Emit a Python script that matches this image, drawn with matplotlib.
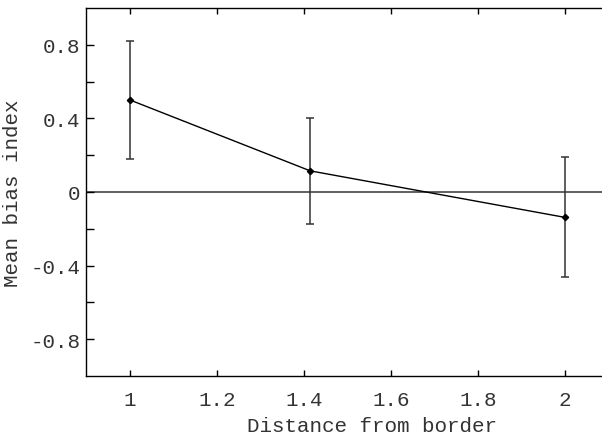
import numpy as np
import matplotlib
matplotlib.use("Agg")
import matplotlib.pyplot as plt
from matplotlib.ticker import FixedLocator

# mean bias index vs distance from border
dist = [1.0, np.sqrt(2), 2.0]
bias = [0.50, 0.115, -0.138]
err = [0.32, 0.288, 0.326]

xticks = [1, 1.2, 1.4, 1.6, 1.8, 2]
xlabels = ["1", "1.2", "1.4", "1.6", "1.8", "2"]
yticks = [-0.8, -0.4, 0, 0.4, 0.8]
ylabels = ["-0.8", "-0.4", "0", "0.4", "0.8"]

plt.rcParams['font.family'] = ['Liberation Mono', 'DejaVu Sans Mono']

fig = plt.figure(figsize=(6.02, 4.35), dpi=100)
ax = fig.add_axes([86/602, 1 - 377/435, 1 - 86/602, (377 - 9)/435])

ax.axhline(0, color='#444444', lw=1.2, zorder=1)
ax.errorbar(dist, bias, yerr=err, fmt='none', ecolor='#333333', elinewidth=1.1,
            capsize=3, capthick=1.1, zorder=2)
ax.plot(dist, bias, color='black', lw=1.0, marker='D', ms=3.2, zorder=3)

ax.set_xlim(1 - 44/435, 1 + 472/435)
ax.set_ylim(-1.0, 1.0)

ax.set_xticks(xticks)
ax.set_xticklabels(xlabels)
ax.set_yticks(yticks)
ax.set_yticklabels(ylabels)
ax.yaxis.set_minor_locator(FixedLocator([-0.6, -0.2, 0.2, 0.6]))

ax.spines['right'].set_visible(False)
for s in ['left', 'bottom', 'top']:
    ax.spines[s].set_linewidth(1.0)

ax.tick_params(axis='x', which='both', direction='in', length=4, width=1.0,
               top=True, labelsize=15, pad=10, labelcolor='#333333')
ax.tick_params(axis='y', which='both', direction='in', length=6, width=1.0,
               right=False, labelsize=15, pad=4, labelcolor='#333333')

ax.set_xlabel("Distance from border", fontsize=15, color='#333333')
ax.xaxis.set_label_coords((372 - 86) / 516, -0.108)
ax.set_ylabel("Mean bias index", fontsize=15, labelpad=6, color='#333333')

fig.savefig("out.png", dpi=100)
